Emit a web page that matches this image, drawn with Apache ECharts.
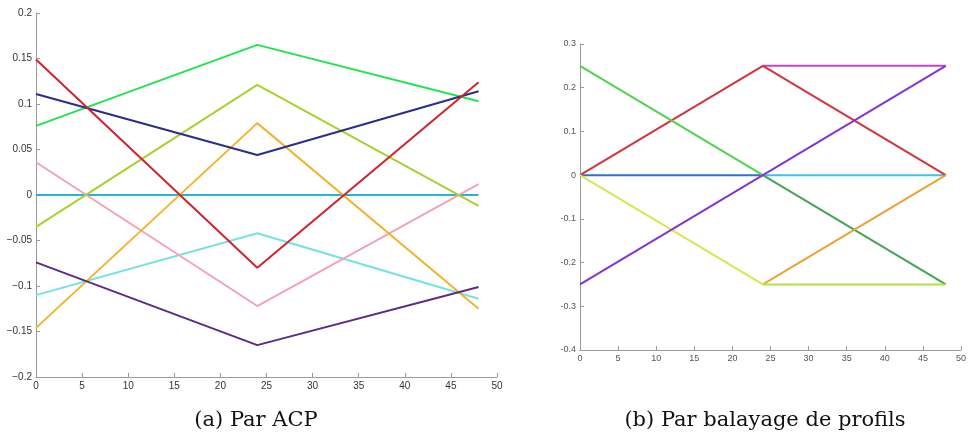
<!DOCTYPE html>
<html>
<head>
<meta charset="utf-8">
<script src="https://cdn.jsdelivr.net/npm/echarts@6/dist/echarts.min.js"></script>
<style>html,body{margin:0;padding:0;background:#fff}#c{width:969px;height:437px}</style>
</head>
<body>
<div id="c"></div>
<script>
// x positions of the profiles
const xs = [0, 24, 48];

// (a) Par ACP
const acpGreen     = [0.076, 0.165, 0.103];
const acpRed       = [0.149, -0.080, 0.124];
const acpNavy      = [0.111, 0.044, 0.114];
const acpYellowGrn = [-0.035, 0.121, -0.012];
const acpOrange    = [-0.146, 0.079, -0.125];
const acpPink      = [0.036, -0.122, 0.012];
const acpZero      = [0, 0, 0];
const acpTurq      = [-0.110, -0.042, -0.114];
const acpPurple    = [-0.074, -0.165, -0.101];

// (b) Par balayage de profils
const pbBlue      = [0, 0, null];
const pbCyan      = [null, 0, 0];
const pbMagenta   = [null, 0.25, 0.25];
const pbRed       = [0, 0.25, 0];
const pbGreen     = [0.25, 0, null];
const pbDarkGreen = [null, 0, -0.25];
const pbYellow    = [0, -0.25, null];
const pbLightGrn  = [null, -0.25, -0.25];
const pbOrange    = [null, -0.25, 0];
const pbPurple    = [-0.25, 0, 0.25];

const captionA = '(a) Par ACP';
const captionB = '(b) Par balayage de profils';

function pts(vals){ return vals.map((v,i)=>[xs[i], v]); }

const leftSeries = [
  [acpZero, '#27b2d6'],
  [acpTurq, '#74e2e2'],
  [acpPink, '#f4a2b6'],
  [acpOrange, '#f0b52c'],
  [acpYellowGrn, '#a8d02e'],
  [acpGreen, '#22e44c'],
  [acpNavy, '#2b2c8c'],
  [acpPurple, '#5b2b87'],
  [acpRed, '#d2222e']
];
const rightSeries = [
  [pbCyan, '#3cc4e6'],
  [pbBlue, '#3272c4'],
  [pbMagenta, '#c444c8'],
  [pbRed, '#d0343e'],
  [pbDarkGreen, '#44a456'],
  [pbGreen, '#52d24e'],
  [pbOrange, '#e8a436'],
  [pbLightGrn, '#b0e444'],
  [pbYellow, '#d6e84e'],
  [pbPurple, '#8434d2']
];

const axisCommon = {
  axisLine: {show: true, onZero: false, lineStyle: {color: '#9a9a9a', width: 1}},
  axisTick: {show: true, inside: true, length: 4, lineStyle: {color: '#9a9a9a'}},
  splitLine: {show: false}
};

const series = [];
leftSeries.forEach(([d,c]) => series.push({
  type: 'line', xAxisIndex: 0, yAxisIndex: 0, data: pts(d), symbol: 'none',
  lineStyle: {color: c, width: 2}, silent: true, animation: false
}));
rightSeries.forEach(([d,c]) => series.push({
  type: 'line', xAxisIndex: 1, yAxisIndex: 1, data: pts(d), symbol: 'none', connectNulls: false,
  lineStyle: {color: c, width: 2}, silent: true, animation: false
}));

const chart = echarts.init(document.getElementById('c'), null, {renderer: 'canvas'});
chart.setOption({
  animation: false,
  backgroundColor: '#fff',
  grid: [
    {left: 36, right: 472, top: 13, bottom: 60, containLabel: false},
    {left: 580, right: 1.5, top: 44, bottom: 87, containLabel: false}
  ],
  xAxis: [
    Object.assign({type: 'value', gridIndex: 0, min: 0, max: 50, interval: 5,
      axisLabel: {color: '#333', fontSize: 10, fontFamily: 'Liberation Sans', margin: 4}}, axisCommon),
    Object.assign({type: 'value', gridIndex: 1, min: 0, max: 50, interval: 5,
      axisLabel: {color: '#555', fontSize: 9, fontFamily: 'Liberation Sans', margin: 4}}, axisCommon)
  ],
  yAxis: [
    Object.assign({type: 'value', gridIndex: 0, min: -0.2, max: 0.2, interval: 0.05,
      axisLabel: {color: '#333', fontSize: 10, fontFamily: 'Liberation Sans', margin: 4,
        formatter: v => String(+v.toFixed(2)).replace('-', '\u2212')}}, axisCommon),
    Object.assign({type: 'value', gridIndex: 1, min: -0.4, max: 0.3, interval: 0.1,
      axisLabel: {color: '#555', fontSize: 9, fontFamily: 'Liberation Sans', margin: 4,
        formatter: v => String(+v.toFixed(1))}}, axisCommon)
  ],
  graphic: [
    {type: 'text', x: 256, y: 421, style: {text: captionA, font: '21px "DejaVu Serif"', fill: '#111', align: 'center', verticalAlign: 'middle'}},
    {type: 'text', x: 765, y: 421, style: {text: captionB, font: '21px "DejaVu Serif"', fill: '#111', align: 'center', verticalAlign: 'middle'}}
  ],
  series: series
});
</script>
</body>
</html>
